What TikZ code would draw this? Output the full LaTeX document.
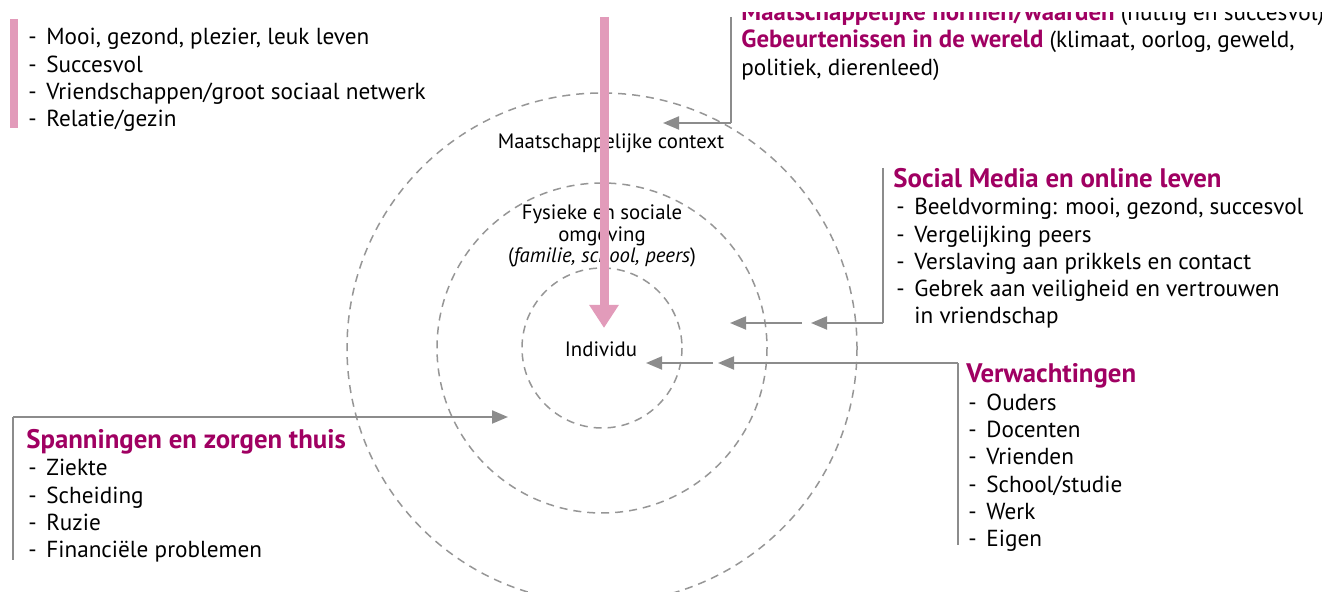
\documentclass[tikz,border=0pt]{standalone}
\usepackage{fontspec}
\setmainfont{PT Sans}
\usetikzlibrary{arrows.meta}
\definecolor{mag}{RGB}{160,0,98}
\definecolor{pinkc}{RGB}{226,155,186}
\definecolor{linec}{RGB}{140,140,140}
\definecolor{dashc}{RGB}{150,150,150}
\tikzset{
  ring/.style={draw=dashc, line width=0.75pt, dash pattern=on 4pt off 3pt},
  conn/.style={draw=linec, line width=1pt, -{Triangle[length=8pt,width=6.5pt]}},
  plain/.style={draw=linec, line width=1pt},
  head/.style={anchor=base west, inner sep=0pt, font=\fontsize{13.4}{15}\selectfont\bfseries, text=mag},
  item/.style={anchor=base west, inner sep=0pt, font=\fontsize{11.6}{13}\selectfont},
  lbl/.style={anchor=base, inner sep=0pt, font=\fontsize{10.4}{12}\selectfont},
}
\newcommand{\dsh}{\makebox[9pt][l]{-}}
\newcommand{\inb}[1]{\textcolor{mag}{\fontsize{12.4}{13}\selectfont\bfseries #1}}
\begin{document}
\begin{tikzpicture}[x=0.5pt,y=-0.5pt]
\useasboundingbox (0,0) rectangle (1322,592);
\begin{scope}
\clip (0,13) rectangle (1322,592);
% rings
\coordinate (c) at (602,348);
\draw[ring] (c) circle (255);
\draw[ring] (c) circle (165);
\draw[ring] (c) circle (80);
% ring labels
\node[lbl] (lmc) at (611,149) {Maatschappelijke context};
\node[lbl] (lfs1) at (602,220) {Fysieke en sociale};
\node[lbl] (lfs2) at (602,242) {omgeving};
\node[lbl] (lfs3) at (602,263) {(\textit{familie, school, peers})};
\node[lbl] (lind) at (601,357) {Individu};
% pink
\fill[pinkc] (10,19) rectangle (18,128);
\coordinate (ptop) at (604,17);
\coordinate (ptip) at (604,328);
\draw[pinkc, line width=4.5pt, -{Triangle[length=11.5pt,width=14pt]}] (ptop) -- (ptip);
% top-left list
\foreach \t [count=\i] in {{Mooi, gezond, plezier, leuk leven},Succesvol,Vriendschappen/groot sociaal netwerk,Relatie/gezin}
  \node[item] (tl\i) at (28,{45+27.3*(\i-1)}) {\dsh\t};
% top-right
\node[item] (tr0) at (741,21) {\inb{Maatschappelijke normen/waarden} (nuttig en succesvol)};
\node[item] (tr1) at (741,48) {\inb{Gebeurtenissen in de wereld} (klimaat, oorlog, geweld,};
\node[item] (tr2) at (741,75.5) {politiek, dierenleed)};
\coordinate (trtop) at (731,17);
\coordinate (trbend) at (731,123);
\coordinate (trtip) at (663,123);
\draw[plain] (trtop) -- (trbend);
\draw[conn] (trbend) -- (trtip);
% social media
\node[head] (smh) at (893,188) {Social Media en online leven};
\foreach \t [count=\i] in {{Beeldvorming: mooi, gezond, succesvol},Vergelijking peers,Verslaving aan prikkels en contact,Gebrek aan veiligheid en vertrouwen}
  \node[item] (sm\i) at (896,{215+27.3*(\i-1)}) {\dsh\t};
\node[item] (sm5) at (896,324) {\hspace*{9pt}in vriendschap};
\coordinate (smtop) at (883,168);
\coordinate (smbend) at (883,323);
\coordinate (smtip) at (811,323);
\coordinate (smf1) at (802,323);
\coordinate (smf2) at (730,323);
\draw[plain] (smtop) -- (smbend);
\draw[conn] (smbend) -- (smtip);
\draw[conn] (smf1) -- (smf2);
% verwachtingen
\node[head] (vwh) at (966,383) {Verwachtingen};
\foreach \t [count=\i] in {Ouders,Docenten,Vrienden,School/studie,Werk,Eigen}
  \node[item] (vw\i) at (968,{410.5+27.2*(\i-1)}) {\dsh\t};
\coordinate (vwbot) at (958,545);
\coordinate (vwbend) at (958,363);
\coordinate (vwtip) at (718,363);
\coordinate (vwf1) at (713,363);
\coordinate (vwf2) at (646,363);
\draw[plain] (vwbot) -- (vwbend);
\draw[conn] (vwbend) -- (vwtip);
\draw[conn] (vwf1) -- (vwf2);
% spanningen
\node[head] (sph) at (26,449) {Spanningen en zorgen thuis};
\foreach \t [count=\i] in {Ziekte,Scheiding,Ruzie,Financiële problemen}
  \node[item] (sp\i) at (28,{476+27.3*(\i-1)}) {\dsh\t};
\coordinate (spbot) at (13,560);
\coordinate (spbend) at (13,417);
\coordinate (sptip) at (508,417);
\draw[plain] (spbot) -- (spbend);
\draw[conn] (spbend) -- (sptip);
\end{scope}
\end{tikzpicture}
\end{document}
